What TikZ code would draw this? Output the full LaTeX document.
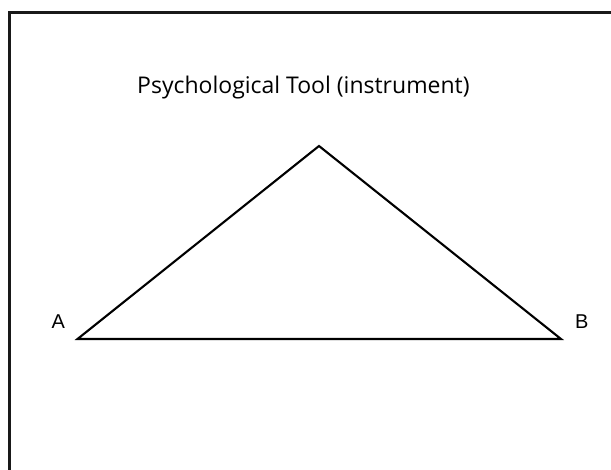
\documentclass[tikz,border=0pt]{standalone}
\usepackage{fontspec}
\setmainfont{Open Sans}
\newfontfamily\labelfont{Liberation Sans}
\begin{document}
\begin{tikzpicture}[x=1pt,y=1pt,
  edge/.style={line width=2.1pt, line join=miter},
  vlabel/.style={font=\labelfont\fontsize{20}{20}\selectfont, inner sep=0pt, anchor=base west}]
\useasboundingbox (0,0) rectangle (611,469);
\begin{scope}
\clip (0,0) rectangle (611,469);
\draw[line width=3pt, black!90] (9.5,-20) -- (9.5,456) -- (640,456);
\end{scope}
\node[inner sep=0pt, anchor=base west, font=\fontsize{23}{23}\selectfont] (title) at (137,375) {Psychological Tool (instrument)};
\coordinate (A) at (77.5,130);
\coordinate (B) at (561,130);
\coordinate (C) at (319,323);
\draw[edge] (A) -- (C) -- (B) -- cycle;
\node[vlabel] (la) at (51.5,140) {A};
\node[vlabel] (lb) at (575,140) {B};
\end{tikzpicture}
\end{document}
